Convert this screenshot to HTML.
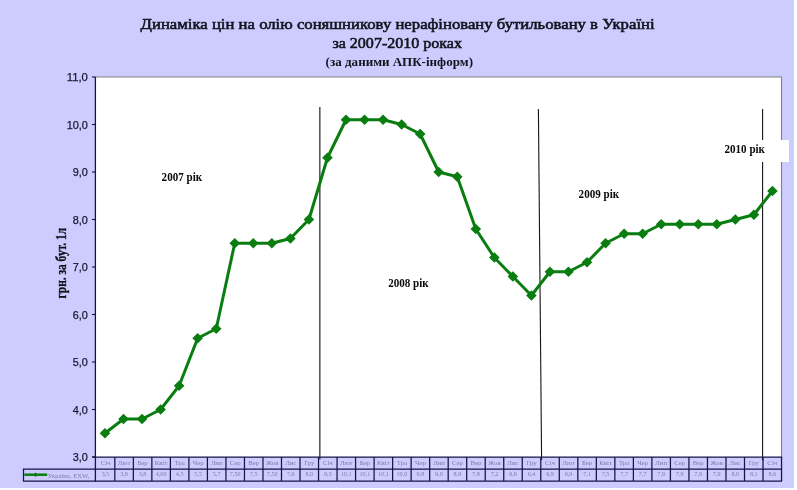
<!DOCTYPE html>
<html lang="uk"><head><meta charset="utf-8"><title>Динаміка цін на олію соняшникову</title>
<style>html,body{margin:0;padding:0;background:#fff;}body{width:797px;height:490px;overflow:hidden;}svg{display:block;will-change:transform;opacity:0.9999;}.t{font-family:"Liberation Serif","Times New Roman",serif;}.a{font-family:"Liberation Sans",Arial,sans-serif;}</style></head><body>
<svg width="797" height="490" viewBox="0 0 797 490">
<rect x="0" y="0" width="797" height="490" fill="#ffffff"/>
<rect x="0" y="0" width="794" height="488" fill="#ccccff"/>
<rect x="95.4" y="77.0" width="686.2" height="380.0" fill="#ffffff"/>
<path d="M95.4 77.0H781.5V457.0" fill="none" stroke="#808080" stroke-width="1.1"/>
<rect x="722" y="140" width="67" height="22" fill="#ffffff"/>
<text class="t" x="140.6" y="28.6" font-size="15.5" fill="#14141e" stroke="#14141e" stroke-width="0.6" textLength="514" lengthAdjust="spacingAndGlyphs">Динаміка цін на олію соняшникову нерафіновану бутильовану в Україні</text>
<text class="t" x="332.4" y="47.7" font-size="15.5" fill="#14141e" stroke="#14141e" stroke-width="0.6" textLength="129.6" lengthAdjust="spacingAndGlyphs">за 2007-2010 роках</text>
<text class="t" x="325.6" y="66.4" font-size="13" font-weight="bold" fill="#14141e" textLength="147.4" lengthAdjust="spacingAndGlyphs">(за даними АПК-інформ)</text>
<line x1="92" y1="457.0" x2="95.4" y2="457.0" stroke="#101030" stroke-width="1.1"/>
<text class="a" x="72.80" y="461.20" font-size="11.5" fill="#16162c" stroke="#16162c" stroke-width="0.25" textLength="15.1" lengthAdjust="spacingAndGlyphs">3,0</text>
<line x1="92" y1="409.5" x2="95.4" y2="409.5" stroke="#101030" stroke-width="1.1"/>
<text class="a" x="72.80" y="413.70" font-size="11.5" fill="#16162c" stroke="#16162c" stroke-width="0.25" textLength="15.1" lengthAdjust="spacingAndGlyphs">4,0</text>
<line x1="92" y1="362.0" x2="95.4" y2="362.0" stroke="#101030" stroke-width="1.1"/>
<text class="a" x="72.80" y="366.20" font-size="11.5" fill="#16162c" stroke="#16162c" stroke-width="0.25" textLength="15.1" lengthAdjust="spacingAndGlyphs">5,0</text>
<line x1="92" y1="314.5" x2="95.4" y2="314.5" stroke="#101030" stroke-width="1.1"/>
<text class="a" x="72.80" y="318.70" font-size="11.5" fill="#16162c" stroke="#16162c" stroke-width="0.25" textLength="15.1" lengthAdjust="spacingAndGlyphs">6,0</text>
<line x1="92" y1="267.0" x2="95.4" y2="267.0" stroke="#101030" stroke-width="1.1"/>
<text class="a" x="72.80" y="271.20" font-size="11.5" fill="#16162c" stroke="#16162c" stroke-width="0.25" textLength="15.1" lengthAdjust="spacingAndGlyphs">7,0</text>
<line x1="92" y1="219.5" x2="95.4" y2="219.5" stroke="#101030" stroke-width="1.1"/>
<text class="a" x="72.80" y="223.70" font-size="11.5" fill="#16162c" stroke="#16162c" stroke-width="0.25" textLength="15.1" lengthAdjust="spacingAndGlyphs">8,0</text>
<line x1="92" y1="172.0" x2="95.4" y2="172.0" stroke="#101030" stroke-width="1.1"/>
<text class="a" x="72.80" y="176.20" font-size="11.5" fill="#16162c" stroke="#16162c" stroke-width="0.25" textLength="15.1" lengthAdjust="spacingAndGlyphs">9,0</text>
<line x1="92" y1="124.5" x2="95.4" y2="124.5" stroke="#101030" stroke-width="1.1"/>
<text class="a" x="66.70" y="128.70" font-size="11.5" fill="#16162c" stroke="#16162c" stroke-width="0.25" textLength="21.2" lengthAdjust="spacingAndGlyphs">10,0</text>
<line x1="92" y1="77.0" x2="95.4" y2="77.0" stroke="#101030" stroke-width="1.1"/>
<text class="a" x="66.70" y="81.20" font-size="11.5" fill="#16162c" stroke="#16162c" stroke-width="0.25" textLength="21.2" lengthAdjust="spacingAndGlyphs">11,0</text>
<text class="t" transform="translate(66.3 298.4) rotate(-90)" font-size="15" font-weight="bold" fill="#101018" stroke="#101018" stroke-width="0.3" textLength="70.6" lengthAdjust="spacingAndGlyphs">грн. за бут. 1л</text>
<line x1="319.8" y1="107" x2="319.8" y2="459.5" stroke="#5a5a5a" stroke-width="1.6"/>
<line x1="538.4" y1="109" x2="541.6" y2="460" stroke="#141414" stroke-width="1.1"/>
<line x1="762.6" y1="109" x2="762.6" y2="140" stroke="#141414" stroke-width="1.1"/>
<line x1="762.6" y1="162" x2="762.6" y2="460.5" stroke="#141414" stroke-width="1.1"/>
<text class="t" x="161.6" y="180.7" font-size="12.5" font-weight="bold" fill="#0a0a0a" textLength="40.5" lengthAdjust="spacingAndGlyphs">2007 рік</text>
<text class="t" x="388.2" y="286.6" font-size="12.5" font-weight="bold" fill="#0a0a0a" textLength="40.5" lengthAdjust="spacingAndGlyphs">2008 рік</text>
<text class="t" x="578.6" y="197.8" font-size="12.5" font-weight="bold" fill="#0a0a0a" textLength="40.5" lengthAdjust="spacingAndGlyphs">2009 рік</text>
<text class="t" x="724.5" y="152.5" font-size="12.5" font-weight="bold" fill="#0a0a0a" textLength="40.5" lengthAdjust="spacingAndGlyphs">2010 рік</text>
<line x1="95.4" y1="77.0" x2="95.4" y2="481.6" stroke="#15154a" stroke-width="1.3"/>
<line x1="92.0" y1="457.0" x2="782.14" y2="457.0" stroke="#15154a" stroke-width="1.25"/>
<line x1="22.9" y1="469.0" x2="782.14" y2="469.0" stroke="#15154a" stroke-width="1.25"/>
<line x1="22.9" y1="481.0" x2="782.14" y2="481.0" stroke="#15154a" stroke-width="1.25"/>
<line x1="23.5" y1="469.0" x2="23.5" y2="481.0" stroke="#15154a" stroke-width="1.25"/>
<path d="M114.82 457.0V481.0M133.34 457.0V481.0M151.86 457.0V481.0M170.38 457.0V481.0M188.90 457.0V481.0M207.42 457.0V481.0M225.94 457.0V481.0M244.46 457.0V481.0M262.98 457.0V481.0M281.50 457.0V481.0M300.02 457.0V481.0M318.54 457.0V481.0M337.06 457.0V481.0M355.58 457.0V481.0M374.10 457.0V481.0M392.62 457.0V481.0M411.14 457.0V481.0M429.66 457.0V481.0M448.18 457.0V481.0M466.70 457.0V481.0M485.22 457.0V481.0M503.74 457.0V481.0M522.26 457.0V481.0M540.78 457.0V481.0M559.30 457.0V481.0M577.82 457.0V481.0M596.34 457.0V481.0M614.86 457.0V481.0M633.38 457.0V481.0M651.90 457.0V481.0M670.42 457.0V481.0M688.94 457.0V481.0M707.46 457.0V481.0M725.98 457.0V481.0M744.50 457.0V481.0M763.02 457.0V481.0M781.54 457.0V481.0" fill="none" stroke="#15154a" stroke-width="1.25"/>
<text class="t" x="105.56" y="464.5" font-size="6.8" text-anchor="middle" fill="#7c7ca2">Січ</text>
<text class="t" x="101.71" y="475.9" font-size="7" fill="#7c7ca2" textLength="7.70" lengthAdjust="spacingAndGlyphs">3,5</text>
<text class="t" x="124.08" y="464.5" font-size="6.8" text-anchor="middle" fill="#7c7ca2">Лют</text>
<text class="t" x="120.23" y="475.9" font-size="7" fill="#7c7ca2" textLength="7.70" lengthAdjust="spacingAndGlyphs">3,8</text>
<text class="t" x="142.60" y="464.5" font-size="6.8" text-anchor="middle" fill="#7c7ca2">Бер</text>
<text class="t" x="138.75" y="475.9" font-size="7" fill="#7c7ca2" textLength="7.70" lengthAdjust="spacingAndGlyphs">3,8</text>
<text class="t" x="161.12" y="464.5" font-size="6.8" text-anchor="middle" fill="#7c7ca2">Квіт</text>
<text class="t" x="155.73" y="475.9" font-size="7" fill="#7c7ca2" textLength="10.78" lengthAdjust="spacingAndGlyphs">4,00</text>
<text class="t" x="179.64" y="464.5" font-size="6.8" text-anchor="middle" fill="#7c7ca2">Тра</text>
<text class="t" x="175.79" y="475.9" font-size="7" fill="#7c7ca2" textLength="7.70" lengthAdjust="spacingAndGlyphs">4,5</text>
<text class="t" x="198.16" y="464.5" font-size="6.8" text-anchor="middle" fill="#7c7ca2">Чер</text>
<text class="t" x="194.31" y="475.9" font-size="7" fill="#7c7ca2" textLength="7.70" lengthAdjust="spacingAndGlyphs">5,5</text>
<text class="t" x="216.68" y="464.5" font-size="6.8" text-anchor="middle" fill="#7c7ca2">Лип</text>
<text class="t" x="212.83" y="475.9" font-size="7" fill="#7c7ca2" textLength="7.70" lengthAdjust="spacingAndGlyphs">5,7</text>
<text class="t" x="235.20" y="464.5" font-size="6.8" text-anchor="middle" fill="#7c7ca2">Сер</text>
<text class="t" x="229.81" y="475.9" font-size="7" fill="#7c7ca2" textLength="10.78" lengthAdjust="spacingAndGlyphs">7,50</text>
<text class="t" x="253.72" y="464.5" font-size="6.8" text-anchor="middle" fill="#7c7ca2">Вер</text>
<text class="t" x="249.87" y="475.9" font-size="7" fill="#7c7ca2" textLength="7.70" lengthAdjust="spacingAndGlyphs">7,5</text>
<text class="t" x="272.24" y="464.5" font-size="6.8" text-anchor="middle" fill="#7c7ca2">Жов</text>
<text class="t" x="266.85" y="475.9" font-size="7" fill="#7c7ca2" textLength="10.78" lengthAdjust="spacingAndGlyphs">7,50</text>
<text class="t" x="290.76" y="464.5" font-size="6.8" text-anchor="middle" fill="#7c7ca2">Лис</text>
<text class="t" x="286.91" y="475.9" font-size="7" fill="#7c7ca2" textLength="7.70" lengthAdjust="spacingAndGlyphs">7,6</text>
<text class="t" x="309.28" y="464.5" font-size="6.8" text-anchor="middle" fill="#7c7ca2">Гру</text>
<text class="t" x="305.43" y="475.9" font-size="7" fill="#7c7ca2" textLength="7.70" lengthAdjust="spacingAndGlyphs">8,0</text>
<text class="t" x="327.80" y="464.5" font-size="6.8" text-anchor="middle" fill="#7c7ca2">Січ</text>
<text class="t" x="323.95" y="475.9" font-size="7" fill="#7c7ca2" textLength="7.70" lengthAdjust="spacingAndGlyphs">9,3</text>
<text class="t" x="346.32" y="464.5" font-size="6.8" text-anchor="middle" fill="#7c7ca2">Лют</text>
<text class="t" x="340.93" y="475.9" font-size="7" fill="#7c7ca2" textLength="10.78" lengthAdjust="spacingAndGlyphs">10,1</text>
<text class="t" x="364.84" y="464.5" font-size="6.8" text-anchor="middle" fill="#7c7ca2">Бер</text>
<text class="t" x="359.45" y="475.9" font-size="7" fill="#7c7ca2" textLength="10.78" lengthAdjust="spacingAndGlyphs">10,1</text>
<text class="t" x="383.36" y="464.5" font-size="6.8" text-anchor="middle" fill="#7c7ca2">Квіт</text>
<text class="t" x="377.97" y="475.9" font-size="7" fill="#7c7ca2" textLength="10.78" lengthAdjust="spacingAndGlyphs">10,1</text>
<text class="t" x="401.88" y="464.5" font-size="6.8" text-anchor="middle" fill="#7c7ca2">Тра</text>
<text class="t" x="396.49" y="475.9" font-size="7" fill="#7c7ca2" textLength="10.78" lengthAdjust="spacingAndGlyphs">10,0</text>
<text class="t" x="420.40" y="464.5" font-size="6.8" text-anchor="middle" fill="#7c7ca2">Чер</text>
<text class="t" x="416.55" y="475.9" font-size="7" fill="#7c7ca2" textLength="7.70" lengthAdjust="spacingAndGlyphs">9,8</text>
<text class="t" x="438.92" y="464.5" font-size="6.8" text-anchor="middle" fill="#7c7ca2">Лип</text>
<text class="t" x="435.07" y="475.9" font-size="7" fill="#7c7ca2" textLength="7.70" lengthAdjust="spacingAndGlyphs">9,0</text>
<text class="t" x="457.44" y="464.5" font-size="6.8" text-anchor="middle" fill="#7c7ca2">Сер</text>
<text class="t" x="453.59" y="475.9" font-size="7" fill="#7c7ca2" textLength="7.70" lengthAdjust="spacingAndGlyphs">8,9</text>
<text class="t" x="475.96" y="464.5" font-size="6.8" text-anchor="middle" fill="#7c7ca2">Вер</text>
<text class="t" x="472.11" y="475.9" font-size="7" fill="#7c7ca2" textLength="7.70" lengthAdjust="spacingAndGlyphs">7,8</text>
<text class="t" x="494.48" y="464.5" font-size="6.8" text-anchor="middle" fill="#7c7ca2">Жов</text>
<text class="t" x="490.63" y="475.9" font-size="7" fill="#7c7ca2" textLength="7.70" lengthAdjust="spacingAndGlyphs">7,2</text>
<text class="t" x="513.00" y="464.5" font-size="6.8" text-anchor="middle" fill="#7c7ca2">Лис</text>
<text class="t" x="509.15" y="475.9" font-size="7" fill="#7c7ca2" textLength="7.70" lengthAdjust="spacingAndGlyphs">6,8</text>
<text class="t" x="531.52" y="464.5" font-size="6.8" text-anchor="middle" fill="#7c7ca2">Гру</text>
<text class="t" x="527.67" y="475.9" font-size="7" fill="#7c7ca2" textLength="7.70" lengthAdjust="spacingAndGlyphs">6,4</text>
<text class="t" x="550.04" y="464.5" font-size="6.8" text-anchor="middle" fill="#7c7ca2">Січ</text>
<text class="t" x="546.19" y="475.9" font-size="7" fill="#7c7ca2" textLength="7.70" lengthAdjust="spacingAndGlyphs">6,9</text>
<text class="t" x="568.56" y="464.5" font-size="6.8" text-anchor="middle" fill="#7c7ca2">Лют</text>
<text class="t" x="564.71" y="475.9" font-size="7" fill="#7c7ca2" textLength="7.70" lengthAdjust="spacingAndGlyphs">6,9</text>
<text class="t" x="587.08" y="464.5" font-size="6.8" text-anchor="middle" fill="#7c7ca2">Бер</text>
<text class="t" x="583.23" y="475.9" font-size="7" fill="#7c7ca2" textLength="7.70" lengthAdjust="spacingAndGlyphs">7,1</text>
<text class="t" x="605.60" y="464.5" font-size="6.8" text-anchor="middle" fill="#7c7ca2">Квіт</text>
<text class="t" x="601.75" y="475.9" font-size="7" fill="#7c7ca2" textLength="7.70" lengthAdjust="spacingAndGlyphs">7,5</text>
<text class="t" x="624.12" y="464.5" font-size="6.8" text-anchor="middle" fill="#7c7ca2">Тра</text>
<text class="t" x="620.27" y="475.9" font-size="7" fill="#7c7ca2" textLength="7.70" lengthAdjust="spacingAndGlyphs">7,7</text>
<text class="t" x="642.64" y="464.5" font-size="6.8" text-anchor="middle" fill="#7c7ca2">Чер</text>
<text class="t" x="638.79" y="475.9" font-size="7" fill="#7c7ca2" textLength="7.70" lengthAdjust="spacingAndGlyphs">7,7</text>
<text class="t" x="661.16" y="464.5" font-size="6.8" text-anchor="middle" fill="#7c7ca2">Лип</text>
<text class="t" x="657.31" y="475.9" font-size="7" fill="#7c7ca2" textLength="7.70" lengthAdjust="spacingAndGlyphs">7,9</text>
<text class="t" x="679.68" y="464.5" font-size="6.8" text-anchor="middle" fill="#7c7ca2">Сер</text>
<text class="t" x="675.83" y="475.9" font-size="7" fill="#7c7ca2" textLength="7.70" lengthAdjust="spacingAndGlyphs">7,9</text>
<text class="t" x="698.20" y="464.5" font-size="6.8" text-anchor="middle" fill="#7c7ca2">Вер</text>
<text class="t" x="694.35" y="475.9" font-size="7" fill="#7c7ca2" textLength="7.70" lengthAdjust="spacingAndGlyphs">7,9</text>
<text class="t" x="716.72" y="464.5" font-size="6.8" text-anchor="middle" fill="#7c7ca2">Жов</text>
<text class="t" x="712.87" y="475.9" font-size="7" fill="#7c7ca2" textLength="7.70" lengthAdjust="spacingAndGlyphs">7,9</text>
<text class="t" x="735.24" y="464.5" font-size="6.8" text-anchor="middle" fill="#7c7ca2">Лис</text>
<text class="t" x="731.39" y="475.9" font-size="7" fill="#7c7ca2" textLength="7.70" lengthAdjust="spacingAndGlyphs">8,0</text>
<text class="t" x="753.76" y="464.5" font-size="6.8" text-anchor="middle" fill="#7c7ca2">Гру</text>
<text class="t" x="749.91" y="475.9" font-size="7" fill="#7c7ca2" textLength="7.70" lengthAdjust="spacingAndGlyphs">8,1</text>
<text class="t" x="772.28" y="464.5" font-size="6.8" text-anchor="middle" fill="#7c7ca2">Січ</text>
<text class="t" x="768.43" y="475.9" font-size="7" fill="#7c7ca2" textLength="7.70" lengthAdjust="spacingAndGlyphs">8,6</text>
<line x1="24.3" y1="474.7" x2="47.2" y2="474.7" stroke="#0a7d10" stroke-width="2.5"/>
<path d="M33.3 474.7L35.6 472.4L37.9 474.7L35.6 477Z" fill="#0a7d10"/>
<text class="t" x="47.8" y="477.5" font-size="6.8" fill="#7c7ca2" textLength="41.6" lengthAdjust="spacingAndGlyphs">Україна, EXW,</text>
<polyline points="104.97,433.25 123.51,419.00 142.05,419.00 160.59,409.50 179.13,385.75 197.67,338.25 216.21,328.75 234.75,243.25 253.29,243.25 271.84,243.25 290.38,238.50 308.92,219.50 327.46,157.75 346.00,119.75 364.54,119.75 383.08,119.75 401.62,124.50 420.16,134.00 438.70,172.00 457.24,176.75 475.78,229.00 494.32,257.50 512.86,276.50 531.40,295.50 549.94,271.75 568.48,271.75 587.02,262.25 605.56,243.25 624.11,233.75 642.65,233.75 661.19,224.25 679.73,224.25 698.27,224.25 716.81,224.25 735.35,219.50 753.89,214.75 772.43,191.00" fill="none" stroke="#0a7d10" stroke-width="3.0" stroke-linejoin="round" stroke-linecap="round"/>
<path d="M99.67 433.25L104.97 427.95L110.27 433.25L104.97 438.55ZM118.21 419.00L123.51 413.70L128.81 419.00L123.51 424.30ZM136.75 419.00L142.05 413.70L147.35 419.00L142.05 424.30ZM155.29 409.50L160.59 404.20L165.89 409.50L160.59 414.80ZM173.83 385.75L179.13 380.45L184.43 385.75L179.13 391.05ZM192.37 338.25L197.67 332.95L202.97 338.25L197.67 343.55ZM210.91 328.75L216.21 323.45L221.51 328.75L216.21 334.05ZM229.45 243.25L234.75 237.95L240.05 243.25L234.75 248.55ZM247.99 243.25L253.29 237.95L258.59 243.25L253.29 248.55ZM266.54 243.25L271.84 237.95L277.14 243.25L271.84 248.55ZM285.08 238.50L290.38 233.20L295.68 238.50L290.38 243.80ZM303.62 219.50L308.92 214.20L314.22 219.50L308.92 224.80ZM322.16 157.75L327.46 152.45L332.76 157.75L327.46 163.05ZM340.70 119.75L346.00 114.45L351.30 119.75L346.00 125.05ZM359.24 119.75L364.54 114.45L369.84 119.75L364.54 125.05ZM377.78 119.75L383.08 114.45L388.38 119.75L383.08 125.05ZM396.32 124.50L401.62 119.20L406.92 124.50L401.62 129.80ZM414.86 134.00L420.16 128.70L425.46 134.00L420.16 139.30ZM433.40 172.00L438.70 166.70L444.00 172.00L438.70 177.30ZM451.94 176.75L457.24 171.45L462.54 176.75L457.24 182.05ZM470.48 229.00L475.78 223.70L481.08 229.00L475.78 234.30ZM489.02 257.50L494.32 252.20L499.62 257.50L494.32 262.80ZM507.56 276.50L512.86 271.20L518.16 276.50L512.86 281.80ZM526.10 295.50L531.40 290.20L536.70 295.50L531.40 300.80ZM544.64 271.75L549.94 266.45L555.24 271.75L549.94 277.05ZM563.18 271.75L568.48 266.45L573.78 271.75L568.48 277.05ZM581.72 262.25L587.02 256.95L592.32 262.25L587.02 267.55ZM600.26 243.25L605.56 237.95L610.86 243.25L605.56 248.55ZM618.81 233.75L624.11 228.45L629.41 233.75L624.11 239.05ZM637.35 233.75L642.65 228.45L647.95 233.75L642.65 239.05ZM655.89 224.25L661.19 218.95L666.49 224.25L661.19 229.55ZM674.43 224.25L679.73 218.95L685.03 224.25L679.73 229.55ZM692.97 224.25L698.27 218.95L703.57 224.25L698.27 229.55ZM711.51 224.25L716.81 218.95L722.11 224.25L716.81 229.55ZM730.05 219.50L735.35 214.20L740.65 219.50L735.35 224.80ZM748.59 214.75L753.89 209.45L759.19 214.75L753.89 220.05ZM767.13 191.00L772.43 185.70L777.73 191.00L772.43 196.30Z" fill="#0a7d10"/>
</svg></body></html>
